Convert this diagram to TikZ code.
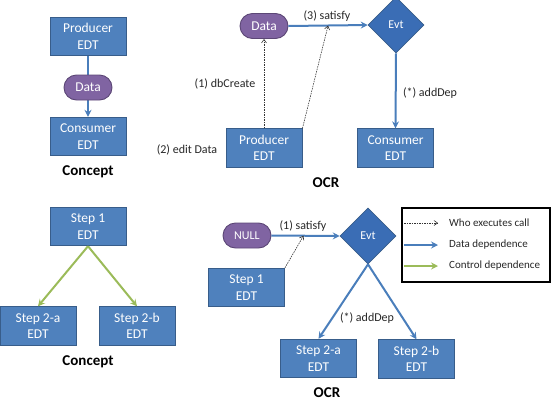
\documentclass[tikz,border=0pt]{standalone}
\usepackage{fontspec}
\setmainfont{Carlito}
\usetikzlibrary{shapes.geometric,arrows.meta,calc}
\definecolor{boxblue}{HTML}{4F81BD}
\definecolor{boxedge}{HTML}{385D8A}
\definecolor{evtblue}{HTML}{3A6DB5}
\definecolor{pillfill}{HTML}{8064A2}
\definecolor{pilledge}{HTML}{5C4776}
\definecolor{arrblue}{HTML}{4A7EBB}
\definecolor{arrgreen}{HTML}{9BBB59}
\tikzset{
  x=1pt,y=-1pt,
  edtbox/.style={draw=boxedge,fill=boxblue,line width=0.9pt,text=white,
    minimum width=76pt,minimum height=38.5pt,inner sep=0pt,align=center,
    font=\fontsize{13.5}{16.5}\selectfont},
  pill/.style={draw=pilledge,fill=pillfill,line width=0.9pt,text=white,
    minimum width=48pt,minimum height=25pt,inner sep=0pt,rounded corners=12.5pt,
    font=\fontsize{13.5}{16}\selectfont},
  evt/.style={diamond,draw=boxedge,fill=evtblue,line width=0.6pt,text=white,
    minimum width=56pt,minimum height=56pt,inner sep=0pt,
    font=\fontsize{12}{14}\selectfont},
  dataarr/.style={draw=arrblue,line width=2pt,-{Stealth[length=7pt,width=7pt,inset=2.5pt]}},
  ctrlarr/.style={draw=arrgreen,line width=2pt,-{Stealth[length=7pt,width=7pt,inset=2.5pt]}},
  callarr/.style={draw=black!80,line width=0.6pt,dash pattern=on 1.5pt off 1pt,-{Straight Barb[length=3.5pt,width=5pt]}},
  lbl/.style={font=\fontsize{12}{14}\selectfont,text=black!85,inner sep=0pt},
  legtxt/.style={font=\fontsize{11}{13}\selectfont,text=black!85,inner sep=0pt,anchor=west},
  title/.style={font=\bfseries\fontsize{15}{18}\selectfont,inner sep=0pt},
}
\begin{document}
\begin{tikzpicture}
\useasboundingbox (0,0) rectangle (557,402);
\clip (0,0) rectangle (557,402);
% ---- top-left concept
\node[edtbox] (prodA) at (88,36.5) {Producer\\EDT};
\node[edtbox] (consA) at (88,136.5) {Consumer\\EDT};
\draw[dataarr] (prodA.south) -- (consA.north);
\node[pill] (dataA) at (88,87.5) {Data};
\node[title] (conA) at (88,172) {Concept};
% ---- top-right OCR
\node[pill] (dataB) at (264,26) {Data};
\node[evt] (evtB) at (396,25) {Evt};
\node[edtbox] (prodB) at (264,148) {Producer\\EDT};
\node[edtbox] (consB) at (395.5,148) {Consumer\\EDT};
\draw[dataarr] (dataB.east) -- (evtB.west);
\draw[dataarr] (evtB.south) -- (consB.north);
\coordinate (satB) at ($(dataB.east)!0.5!(evtB.west)$);
\draw[callarr] (prodB.north) -- (dataB.south);
\draw[callarr] (prodB.north east) -- (satB);
\node[lbl] (l3) at (327,16) {(3) satisfy};
\node[lbl] (l1) at (225,84) {(1) dbCreate};
\node[lbl] (l2) at (187,150) {(2) edit Data};
\node[lbl] (l4) at (430,93) {(*) addDep};
\node[title] (ocrA) at (326,183) {OCR};
% ---- bottom-left concept
\node[edtbox] (step1A) at (88,226.5) {Step 1\\EDT};
\node[edtbox] (s2aA) at (38,326) {Step 2-a\\EDT};
\node[edtbox] (s2bA) at (137,326) {Step 2-b\\EDT};
\draw[ctrlarr] (step1A.south) -- (s2aA.north);
\draw[ctrlarr] (step1A.south) -- (s2bA.north);
\node[title] (conB) at (88,362) {Concept};
% ---- bottom-right OCR
\node[pill] (nullB) at (247,235.5) {\fontsize{12}{14}\selectfont NULL};
\node[evt] (evtC) at (368,236) {Evt};
\node[edtbox] (step1B) at (246.5,287.5) {Step 1\\EDT};
\node[edtbox] (s2aB) at (318.5,358.5) {Step 2-a\\EDT};
\node[edtbox] (s2bB) at (416.5,359) {Step 2-b\\EDT};
\draw[dataarr] (nullB.east) -- (evtC.west);
\coordinate (satC) at ($(nullB.east)!0.47!(evtC.west)$);
\draw[callarr] (step1B.north east) -- (satC);
\draw[dataarr] (evtC.south) -- (s2aB.north);
\draw[dataarr] (evtC.south) -- (s2bB.north);
\node[lbl] (l5) at (303,226) {(1) satisfy};
\node[lbl] (l6) at (367,318) {(*) addDep};
\node[title] (ocrB) at (327,393) {OCR};
% ---- legend
\node[draw=black,line width=1.4pt,minimum width=148pt,minimum height=74pt,inner sep=0pt] (leg) at (476,245) {};
\coordinate (la1) at (404,223); \coordinate (lb1) at (438,223);
\coordinate (la2) at (404,245); \coordinate (lb2) at (438,245);
\coordinate (la3) at (404,266); \coordinate (lb3) at (438,266);
\draw[callarr] (la1) -- (lb1);
\draw[dataarr] (la2) -- (lb2);
\draw[ctrlarr] (la3) -- (lb3);
\node[legtxt] (t1) at (449,223) {Who executes call};
\node[legtxt] (t2) at (449,245) {Data dependence};
\node[legtxt] (t3) at (449,266) {Control dependence};
\end{tikzpicture}
\end{document}
